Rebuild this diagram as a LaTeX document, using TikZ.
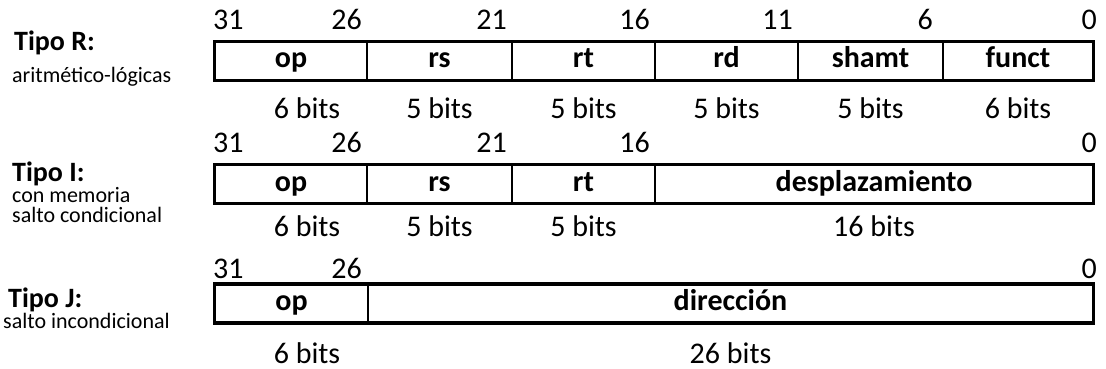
\documentclass[tikz,border=0pt]{standalone}
\usepackage{fontspec}
\setmainfont{Carlito}
\usetikzlibrary{positioning}

\tikzset{
  field/.style={draw, line width=1.2pt, minimum height=38pt, inner sep=0pt,
    text height=21pt, text depth=7pt, font=\fontsize{30}{36}\selectfont\bfseries},
  frame/.style={line width=3.5pt},
  bitnum/.style={anchor=base east, inner sep=0pt, font=\fontsize{30}{36}\selectfont},
  nbits/.style={anchor=base, inner sep=0pt, font=\fontsize{30}{36}\selectfont},
  tipo/.style={anchor=base west, inner sep=0pt, font=\fontsize{28}{34}\selectfont\bfseries},
  note/.style={anchor=base west, inner sep=0pt, font=\fontsize{22}{26}\selectfont},
}

\begin{document}
\begin{tikzpicture}[x=1pt, y=-1pt]
  \useasboundingbox (0,0) rectangle (1106,369);

  % Tipo R
  \node[tipo] (tipoR) at (14,51) {Tipo R:};
  \node[note] (notaR) at (12,83) {aritmético-lógicas};

  \node[bitnum, anchor=base west] (r31) at (213,30) {31};
  \node[bitnum] (r26) at (362,30) {26};
  \node[bitnum] (r21) at (507,30) {21};
  \node[bitnum] (r16) at (650,30) {16};
  \node[bitnum] (r11) at (793,30) {11};
  \node[bitnum] (r6) at (933,30) {6};
  \node[bitnum] (r0) at (1097,30) {0};

  \node[field, minimum width=152pt] (opR) at (291,61) {op};
  \node[field, minimum width=145pt] (rsR) at (439.5,61) {rs};
  \node[field, minimum width=143pt] (rtR) at (583.5,61) {rt};
  \node[field, minimum width=143pt] (rdR) at (726.5,61) {rd};
  \node[field, minimum width=145pt] (shamtR) at (870.5,61) {shamt};
  \node[field, minimum width=150pt] (functR) at (1018,61) {funct};
  \draw[frame] (opR.north west) rectangle (functR.south east);

  \node[nbits] (bopR) at (307,118) {6 bits};
  \node[nbits] (brsR) at (rsR |- 0,118) {5 bits};
  \node[nbits] (brtR) at (rtR |- 0,118) {5 bits};
  \node[nbits] (brdR) at (rdR |- 0,118) {5 bits};
  \node[nbits] (bshR) at (shamtR |- 0,118) {5 bits};
  \node[nbits] (bfnR) at (functR |- 0,118) {6 bits};

  % Tipo I
  \node[tipo] (tipoI) at (12,181) {Tipo I:};
  \node[note] (notaI1) at (12,202) {con memoria};
  \node[note] (notaI2) at (12,222) {salto condicional};

  \node[bitnum, anchor=base west] (i31) at (213,152) {31};
  \node[bitnum] (i26) at (362,152) {26};
  \node[bitnum] (i21) at (507,152) {21};
  \node[bitnum] (i16) at (650,152) {16};
  \node[bitnum] (i0) at (1097,152) {0};

  \node[field, minimum width=152pt] (opI) at (291,184) {op};
  \node[field, minimum width=145pt] (rsI) at (439.5,184) {rs};
  \node[field, minimum width=143pt] (rtI) at (583.5,184) {rt};
  \node[field, minimum width=438pt] (despI) at (874,184) {desplazamiento};
  \draw[frame] (opI.north west) rectangle (despI.south east);

  \node[nbits] (bopI) at (307,236) {6 bits};
  \node[nbits] (brsI) at (rsI |- 0,236) {5 bits};
  \node[nbits] (brtI) at (rtI |- 0,236) {5 bits};
  \node[nbits] (bdeI) at (despI |- 0,236) {16 bits};

  % Tipo J
  \node[tipo] (tipoJ) at (8,307) {Tipo J:};
  \node[note] (notaJ) at (3,328) {salto incondicional};

  \node[bitnum, anchor=base west] (j31) at (213,278) {31};
  \node[bitnum] (j26) at (362,278) {26};
  \node[bitnum] (j0) at (1097,278) {0};

  \node[field, minimum width=153pt] (opJ) at (291.5,303.5) {op};
  \node[field, minimum width=725pt] (dirJ) at (730.5,303.5) {dirección};
  \draw[frame] (opJ.north west) rectangle (dirJ.south east);

  \node[nbits] (bopJ) at (307,363) {6 bits};
  \node[nbits] (bdiJ) at (dirJ |- 0,363) {26 bits};
\end{tikzpicture}
\end{document}
